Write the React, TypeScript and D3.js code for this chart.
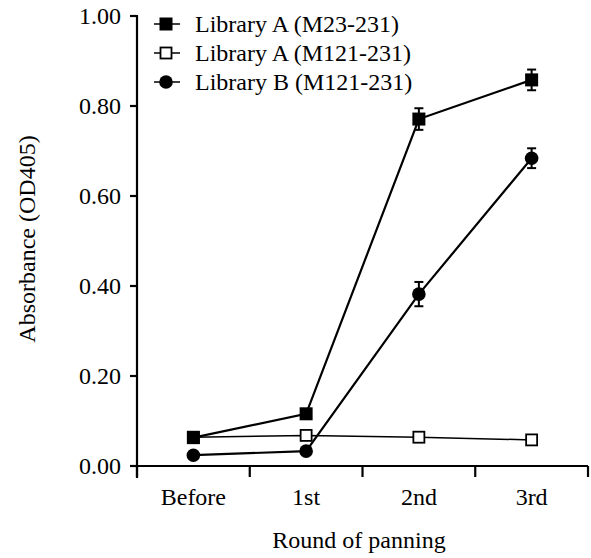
import React from "react";
import * as d3 from "d3";

const categories = ["Before", "1st", "2nd", "3rd"];
const yTicks = [0, 0.2, 0.4, 0.6, 0.8, 1.0];
const seriesNames = ["Library A (M23-231)", "Library A (M121-231)", "Library B (M121-231)"];
const libAM23 = [0.063, 0.116, 0.771, 0.858];
const libAM23Err = [0, 0, 0.024, 0.023];
const libAM121 = [0.064, 0.068, 0.064, 0.058];
const libAM121Err = [0, 0, 0, 0];
const libBM121 = [0.024, 0.033, 0.382, 0.684];
const libBM121Err = [0, 0, 0.027, 0.022];

const W = 591, H = 558;
const left = 137, right = 588, top = 16, bottom = 466;
const font = "'Liberation Serif', 'Times New Roman', serif";
const FS = 24;

export default function App() {
  const x = d3.scaleBand<string>().domain(categories).range([left, right]).padding(0);
  const y = d3.scaleLinear().domain([0, 1]).range([bottom, top]);
  const cx = (c: string) => (x(c) as number) + x.bandwidth() / 2;
  const line = d3.line<number>().x((_, i) => cx(categories[i])).y((d) => y(d));

  const series = [
    { vals: libAM23, err: libAM23Err, shape: "sqf", sw: 2.2 },
    { vals: libAM121, err: libAM121Err, shape: "sqo", sw: 1.5 },
    { vals: libBM121, err: libBM121Err, shape: "circ", sw: 2.2 },
  ];

  const marker = (shape: string, px: number, py: number, key: any) => {
    if (shape === "sqf") return <rect key={key} x={px - 6.5} y={py - 6.5} width={13} height={13} fill="#000" />;
    if (shape === "sqo") return <rect key={key} x={px - 5.5} y={py - 5.5} width={11} height={11} fill="#fff" stroke="#000" strokeWidth={1.8} />;
    return <circle key={key} cx={px} cy={py} r={6.8} fill="#000" />;
  };

  const bandEdges = categories.map((c) => x(c) as number).concat([right]);

  return (
    <svg width={W} height={H} style={{ position: "absolute", left: 0, top: 0, background: "#fff", fontFamily: font }}>
      <rect width={W} height={H} fill="#fff" />
      {/* y axis */}
      <line x1={left} x2={left} y1={top - 1} y2={bottom + 12} stroke="#000" strokeWidth={2.2} />
      {yTicks.map((t) => (
        <g key={t}>
          <line x1={left - 7} x2={left} y1={y(t)} y2={y(t)} stroke="#000" strokeWidth={2.2} />
          <text x={left - 16} y={y(t)} dy="0.35em" textAnchor="end" fontSize={FS}>{t.toFixed(2)}</text>
        </g>
      ))}
      {/* x axis */}
      <line x1={left} x2={right} y1={bottom} y2={bottom} stroke="#000" strokeWidth={2.2} />
      {bandEdges.map((e, i) => (
        <line key={i} x1={e} x2={e} y1={bottom} y2={bottom + 11} stroke="#000" strokeWidth={2.2} />
      ))}
      {categories.map((c) => (
        <text key={c} x={cx(c)} y={505} textAnchor="middle" fontSize={FS}>{c}</text>
      ))}
      <text x={359} y={548} textAnchor="middle" fontSize={FS}>Round of panning</text>
      <text transform={`translate(35, 239) rotate(-90)`} textAnchor="middle" fontSize={FS}>Absorbance (OD405)</text>

      {/* series */}
      {series.map((s, si) => (
        <g key={si}>
          <path d={line(s.vals) as string} fill="none" stroke="#000" strokeWidth={s.sw} />
          {s.vals.map((v, i) =>
            s.err[i] > 0 ? (
              <g key={i}>
                <line x1={cx(categories[i])} x2={cx(categories[i])} y1={y(v + s.err[i])} y2={y(v - s.err[i])} stroke="#000" strokeWidth={2} />
                <line x1={cx(categories[i]) - 4.5} x2={cx(categories[i]) + 4.5} y1={y(v + s.err[i])} y2={y(v + s.err[i])} stroke="#000" strokeWidth={2} />
                <line x1={cx(categories[i]) - 4.5} x2={cx(categories[i]) + 4.5} y1={y(v - s.err[i])} y2={y(v - s.err[i])} stroke="#000" strokeWidth={2} />
              </g>
            ) : null
          )}
        </g>
      ))}
      {[1, 2, 0].map((si) => (
        <g key={"m" + si}>{series[si].vals.map((v, i) => marker(series[si].shape, cx(categories[i]), y(v), i))}</g>
      ))}

      {/* legend */}
      {seriesNames.map((n, i) => {
        const ly = 24 + i * 29;
        return (
          <g key={n}>
            <line x1={154} x2={180} y1={ly} y2={ly} stroke="#000" strokeWidth={1.5} />
            {marker(series[i].shape, 166, ly, "lm")}
            <text x={195} y={ly} dy="0.33em" fontSize={FS}>{n}</text>
          </g>
        );
      })}
    </svg>
  );
}
